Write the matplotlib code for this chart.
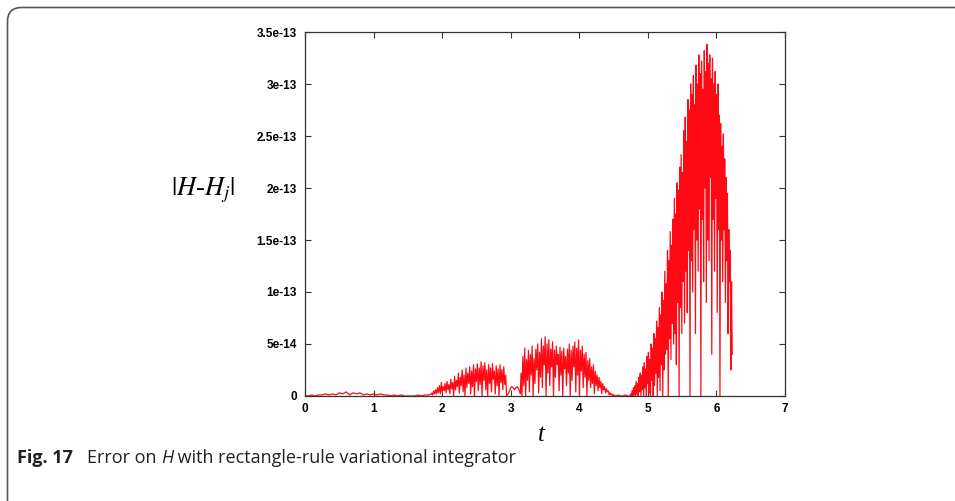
#!/usr/bin/env python3

import numpy as np
import matplotlib
matplotlib.use("Agg")
import matplotlib.pyplot as plt
from matplotlib.patches import FancyBboxPatch
from matplotlib.transforms import IdentityTransform

# values, in units of 1e-15
quiet = [0, 0, 1, 0, 1, 1, 2, 1, 2, 1, 3, 2, 4, 1, 3, 2, 3, 1, 2, 1,
         2, 1, 2, 1, 1, 0, 1, 0, 1, 0, 0, 0, 0, 1, 0, 1, 1, 2]          # t 0 .. 1.85
rise_hi = [3, 5, 6, 8, 10, 13, 9, 12, 14, 11, 16, 13, 19, 15, 22, 18, 25, 20, 27, 22,
           28, 24, 30, 26, 31, 27, 33, 29, 32, 25, 30, 27, 31, 24, 29, 26, 30, 25, 28, 20]
rise_lo = [1, 2, 2, 3, 2, 4, 5, 3, 6, 2, 7, 0, 6, 9, 3, 10, 4, 0, 8, 12,
           2, 9, 0, 14, 5, 11, 0, 15, 6, 0, 12, 4, 16, 2, 10, 0, 13, 6, 11, 0]   # t 1.85 .. 2.94
bump = [1, 3, 7, 9, 8, 6, 8, 9, 6, 2]                                  # t 2.95 .. 3.14
mid_hi = [22, 38, 46, 35, 44, 40, 48, 36, 45, 50, 42, 55, 48, 57, 50, 54, 45, 52, 44, 48,
          40, 47, 43, 46, 38, 45, 50, 44, 48, 52, 46, 54, 44, 48, 40, 42, 34, 36, 28, 30,
          24, 20, 18, 14, 12, 9, 7, 5, 3, 2]
mid_lo = [0, 10, 0, 15, 4, 20, 0, 12, 25, 3, 18, 8, 30, 0, 22, 10, 28, 0, 18, 30,
          5, 20, 0, 26, 10, 22, 0, 15, 28, 4, 20, 0, 24, 8, 18, 0, 15, 8, 12, 2,
          10, 5, 8, 2, 6, 3, 4, 1, 1, 0]                               # t 3.15 .. 4.49
flat = [1, 0, 1, 0, 0, 1, 0, 0]                                        # t 4.50 .. 4.74
peak_hi = [2, 5, 8, 10, 14, 12, 18, 22, 20, 28, 32, 26, 38, 42, 35, 50, 46, 60, 55, 72,
           66, 85, 78, 100, 92, 120, 108, 140, 130, 158, 145, 170, 190, 175, 205, 198, 220, 232, 215, 255,
           268, 245, 285, 275, 300, 290, 308, 280, 318, 300, 328, 310, 322, 295, 332, 312, 338, 320, 328, 305,
           325, 300, 312, 290, 300, 270, 262, 240, 252, 228, 210, 195, 160, 140, 110]
peak_lo = [0, 0, 1, 0, 2, 0, 4, 0, 6, 0, 8, 0, 12, 3, 0, 15, 0, 10, 22, 0,
           18, 5, 30, 0, 25, 40, 45, 0, 55, 35, 70, 50, 60, 30, 90, 0, 85, 60, 110, 70,
           120, 80, 140, 0, 130, 100, 160, 60, 150, 120, 180, 0, 170, 110, 200, 90, 150, 130, 210, 40,
           170, 120, 190, 80, 160, 0, 150, 110, 160, 90, 130, 60, 110, 25, 40]   # t 4.75 .. 6.23

x_ticks = [0, 1, 2, 3, 4, 5, 6, 7]
y_ticks = [0, 0.5e-13, 1e-13, 1.5e-13, 2e-13, 2.5e-13, 3e-13, 3.5e-13]
y_labels = ["0", "5e-14", "1e-13", "1.5e-13", "2e-13", "2.5e-13", "3e-13", "3.5e-13"]


def interleave(hi, lo):
    out = np.empty(2 * len(hi))
    out[0::2] = hi
    out[1::2] = lo
    return out


segments = [(0.0, 1.85, np.array(quiet, float)),
            (1.85, 2.94, interleave(rise_hi, rise_lo)),
            (2.95, 3.14, np.array(bump, float)),
            (3.15, 4.49, interleave(mid_hi, mid_lo)),
            (4.50, 4.74, np.array(flat, float)),
            (4.75, 6.23, interleave(peak_hi, peak_lo))]
t = np.concatenate([np.linspace(a, b, len(v)) for a, b, v in segments])
err = np.concatenate([v for a, b, v in segments]) * 1e-15

fig = plt.figure(figsize=(9.55, 5.01), dpi=100)
ax = fig.add_axes([0.3194, 0.2096, 0.5026, 0.7265])
ax.plot(t, err, color="#ff0a14", lw=0.9)

ax.set_xlim(0, 7)
ax.set_ylim(0, 3.5e-13)
ax.set_xticks(x_ticks)
ax.set_xticklabels([str(v) for v in x_ticks])
ax.set_yticks(y_ticks)
ax.set_yticklabels(y_labels)
ax.tick_params(direction="in", top=True, right=True, length=4, width=0.8,
               color="#333333", labelsize=8.5)
ax.tick_params(axis="x", pad=5)
ax.tick_params(axis="y", pad=6)
for lab in ax.get_xticklabels() + ax.get_yticklabels():
    lab.set_fontfamily("Liberation Sans")
    lab.set_fontweight("bold")
for s in ax.spines.values():
    s.set_color("#333333")
    s.set_linewidth(0.9)

# axis labels, gnuplot style
fig.text(0.2126, 0.6208, r"$|H$-$H_j|$", family="Liberation Serif", math_fontfamily="stix",
         fontsize=19, ha="center", va="center")
fig.text(0.5665, 0.1317, "t", family="Liberation Serif", style="italic",
         fontsize=18, ha="center", va="center")

# frame with rounded top-left corner
frame = FancyBboxPatch((7.5, -200), 1200, 693.5, boxstyle="round,pad=0,rounding_size=14",
                       transform=IdentityTransform(), fill=False, ec="#555555", lw=1.2)
fig.add_artist(frame)

# caption
renderer = fig.canvas.get_renderer()
cap_font = ["Open Sans", "DejaVu Sans"]
cap_y = 0.076
x0 = 17 / 955
parts = [("Fig. 17", "bold", "normal", 14),
         ("Error on ", "normal", "normal", 0),
         ("H", "normal", "italic", 0),
         (" with rectangle-rule variational integrator", "normal", "normal", 0)]
for txt, weight, style, gap in parts:
    tx = fig.text(x0, cap_y, txt, family=cap_font, weight=weight, style=style,
                  fontsize=13, va="baseline", color="#222222")
    bb = tx.get_window_extent(renderer)
    x0 += (bb.width + gap) / 955

fig.savefig("out.png", dpi=100)
